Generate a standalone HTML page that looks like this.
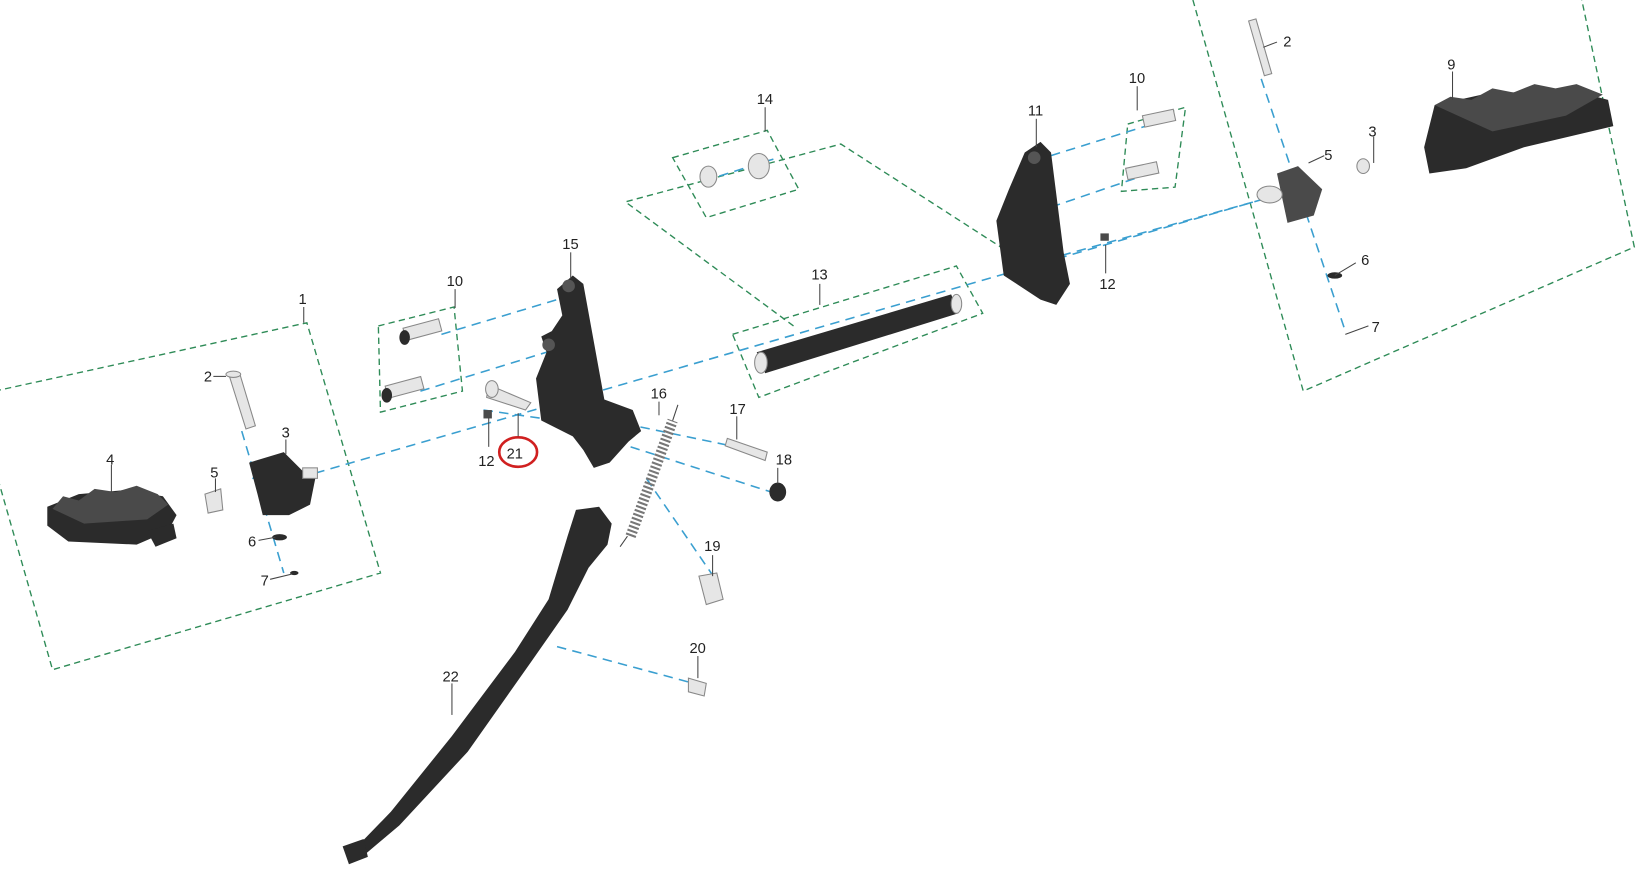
<!DOCTYPE html>
<html><head><meta charset="utf-8"><style>
html,body{margin:0;padding:0;background:#fff;width:1648px;height:880px;overflow:hidden}
svg{display:block}
text{font-family:"Liberation Sans",sans-serif;font-size:14px;fill:#222}
.g{fill:none;stroke:#2e8b57;stroke-width:1.3;stroke-dasharray:6,4}
.b{fill:none;stroke:#3a9fd0;stroke-width:1.5;stroke-dasharray:9,6}
.l{stroke:#444;stroke-width:1;fill:none}
.d{fill:#2b2b2b}
.m{fill:#4a4a4a}
.p{fill:#e6e6e6;stroke:#888;stroke-width:1}
</style></head><body>
<svg width="1648" height="880" viewBox="0 0 1568 837" preserveAspectRatio="none">
<polyline class="g" points="-5,372 292,307 362,545 50,637 -5,445"/>
<polygon class="g" points="360,310 432,292 440,372 362,392"/>
<polygon class="g" points="640,150 730,124 760,180 672,207"/>
<polyline class="g" points="755,310 595,192 800,137 960,240"/>
<polygon class="g" points="697,318 910,253 935,298 722,378"/>
<polygon class="g" points="1073,118 1128,102 1118,178 1067,182"/>
<polyline class="g" points="1135,0 1240,372 1555,235 1505,0"/>
<line class="b" x1="300" y1="450" x2="1200" y2="190"/>
<line class="b" x1="240" y1="455" x2="300" y2="450"/>
<line class="b" x1="420" y1="318" x2="540" y2="282"/>
<line class="b" x1="400" y1="372" x2="520" y2="335"/>
<line class="b" x1="670" y1="172" x2="740" y2="150"/>
<line class="b" x1="1000" y1="148" x2="1090" y2="120"/>
<line class="b" x1="1000" y1="197" x2="1085" y2="168"/>
<line class="b" x1="1010" y1="243" x2="1200" y2="190"/>
<line class="b" x1="460" y1="390" x2="600" y2="410"/>
<line class="b" x1="580" y1="400" x2="700" y2="425"/>
<line class="b" x1="600" y1="425" x2="740" y2="470"/>
<line class="b" x1="615" y1="455" x2="680" y2="550"/>
<line class="b" x1="530" y1="615" x2="660" y2="650"/>
<line class="b" x1="1200" y1="75" x2="1280" y2="315"/>
<line class="b" x1="230" y1="410" x2="270" y2="545"/>
<!-- left footpeg 4 -->
<path class="d" d="M45,482 L75,470 L120,466 L155,472 L168,490 L160,505 L130,518 L65,515 L45,500 Z"/>
<path class="m" d="M50,484 L60,472 L75,476 L90,465 L110,468 L130,462 L150,470 L160,480 L140,494 L80,498 Z"/>
<path class="d" d="M140,505 L165,498 L168,512 L148,520 Z"/>
<!-- left bracket 3 -->
<path class="d" d="M237,440 L270,430 L290,450 L300,455 L295,480 L275,490 L250,490 L245,470 Z"/>
<rect class="p" x="288" y="445" width="14" height="10"/>
<path class="p" d="M195,470 L210,465 L212,485 L198,488 Z"/>
<path class="p" d="M218,357 L228,355 L243,405 L234,408 Z"/>
<ellipse class="p" cx="222" cy="356" rx="7" ry="3"/>
<ellipse class="d" cx="266" cy="511" rx="7" ry="3"/>
<ellipse class="d" cx="280" cy="545" rx="4" ry="2"/>
<rect class="p" x="385" y="312" width="35" height="12" transform="rotate(-15 385 318)"/>
<ellipse class="d" cx="385" cy="321" rx="5" ry="7"/>
<rect class="p" x="368" y="367" width="35" height="12" transform="rotate(-15 368 373)"/>
<ellipse class="d" cx="368" cy="376" rx="5" ry="7"/>
<path class="p" d="M465,366 L505,383 L500,390 L463,378 Z"/>
<ellipse class="p" cx="468" cy="370" rx="6" ry="8"/>
<rect class="m" x="460" y="390" width="8" height="8"/>
<!-- bracket 15 -->
<path class="d" d="M530,275 L545,262 L555,270 L575,380 L602,390 L610,410 L598,420 L580,440 L565,445 L555,428 L545,415 L515,400 L510,360 L520,335 L515,320 L525,315 L535,300 Z"/>
<circle cx="541" cy="272" r="6" fill="#555"/>
<circle cx="522" cy="328" r="6" fill="#555"/>
<path d="M600,510 L640,400" stroke="#777" stroke-width="10" stroke-dasharray="2,2" fill="none"/>
<path class="l" d="M590,520 L597,510 M640,400 L645,385"/>
<!-- kickstand 22 (slimmer) -->
<path class="d" d="M548,485 L570,482 L582,498 L578,518 L560,540 L540,580 L505,630 L445,715 L380,785 L348,812 L340,805 L372,772 L430,700 L490,620 L522,570 L540,510 Z"/>
<path class="d" d="M326,805 L346,798 L350,815 L332,822 Z"/>
<path class="d" d="M720,335 L905,280 L912,298 L728,355 Z"/>
<ellipse class="p" cx="724" cy="345" rx="6" ry="10"/>
<ellipse class="p" cx="910" cy="289" rx="5" ry="9"/>
<ellipse class="p" cx="674" cy="168" rx="8" ry="10"/>
<ellipse class="p" cx="722" cy="158" rx="10" ry="12"/>
<path class="p" d="M692,417 L730,430 L728,438 L690,424 Z"/>
<ellipse class="d" cx="740" cy="468" rx="8" ry="9"/>
<path class="p" d="M665,548 L682,545 L688,570 L672,575 Z"/>
<path class="p" d="M655,645 L672,650 L670,662 L655,658 Z"/>
<path class="d" d="M975,145 L990,135 L1000,145 L1012,240 L1018,270 L1005,290 L990,285 L955,262 L948,210 L960,180 Z"/>
<circle cx="984" cy="150" r="6" fill="#555"/>
<rect class="p" x="1088" y="110" width="30" height="11" transform="rotate(-12 1088 115)"/>
<rect class="p" x="1072" y="160" width="30" height="11" transform="rotate(-12 1072 165)"/>
<rect class="m" x="1047" y="222" width="8" height="7"/>
<path class="m" d="M1215,165 L1235,158 L1258,180 L1250,205 L1225,212 Z"/>
<ellipse class="p" cx="1208" cy="185" rx="12" ry="8"/>
<path class="p" d="M1188,20 L1195,18 L1210,70 L1203,72 Z"/>
<ellipse class="d" cx="1270" cy="262" rx="7" ry="3"/>
<ellipse class="p" cx="1297" cy="158" rx="6" ry="7"/>
<path class="d" d="M1355,140 L1365,100 L1410,90 L1430,88 L1500,87 L1530,95 L1535,120 L1450,140 L1395,160 L1360,165 Z"/>
<path class="m" d="M1365,100 L1380,92 L1400,95 L1420,84 L1440,88 L1460,80 L1480,84 L1500,80 L1525,90 L1490,110 L1420,125 Z"/>
<ellipse cx="493" cy="430" rx="18" ry="14" fill="none" stroke="#d02020" stroke-width="2.5"/>
<g class="l">
<line x1="289" y1="292" x2="289" y2="307"/>
<line x1="203" y1="358" x2="215" y2="358"/>
<line x1="272" y1="418" x2="272" y2="432"/>
<line x1="106" y1="442" x2="106" y2="468"/>
<line x1="205" y1="455" x2="205" y2="468"/>
<line x1="246" y1="514" x2="262" y2="511"/>
<line x1="257" y1="551" x2="278" y2="546"/>
<line x1="433" y1="275" x2="433" y2="293"/>
<line x1="543" y1="240" x2="543" y2="265"/>
<line x1="728" y1="102" x2="728" y2="125"/>
<line x1="780" y1="270" x2="780" y2="290"/>
<line x1="627" y1="382" x2="627" y2="395"/>
<line x1="701" y1="396" x2="701" y2="418"/>
<line x1="740" y1="445" x2="740" y2="460"/>
<line x1="678" y1="528" x2="678" y2="548"/>
<line x1="664" y1="624" x2="664" y2="645"/>
<line x1="430" y1="650" x2="430" y2="680"/>
<line x1="465" y1="397" x2="465" y2="425"/>
<line x1="493" y1="393" x2="493" y2="415"/>
<line x1="986" y1="113" x2="986" y2="140"/>
<line x1="1082" y1="82" x2="1082" y2="105"/>
<line x1="1052" y1="233" x2="1052" y2="260"/>
<line x1="1202" y1="45" x2="1215" y2="40"/>
<line x1="1382" y1="68" x2="1382" y2="95"/>
<line x1="1307" y1="130" x2="1307" y2="155"/>
<line x1="1245" y1="155" x2="1260" y2="148"/>
<line x1="1270" y1="262" x2="1290" y2="250"/>
<line x1="1280" y1="318" x2="1302" y2="310"/>
</g>
<g>
<text x="284" y="289">1</text><text x="194" y="363">2</text><text x="268" y="416">3</text>
<text x="101" y="442">4</text><text x="200" y="454">5</text><text x="236" y="520">6</text>
<text x="248" y="557">7</text><text x="425" y="272">10</text><text x="535" y="237">15</text>
<text x="720" y="99">14</text><text x="772" y="266">13</text><text x="619" y="379">16</text>
<text x="694" y="394">17</text><text x="738" y="442">18</text><text x="670" y="524">19</text>
<text x="656" y="621">20</text><text x="421" y="648">22</text><text x="455" y="443">12</text>
<text x="482" y="436">21</text><text x="978" y="110">11</text><text x="1074" y="79">10</text>
<text x="1046" y="275">12</text><text x="1221" y="44">2</text><text x="1377" y="66">9</text>
<text x="1302" y="130">3</text><text x="1260" y="152">5</text><text x="1295" y="252">6</text>
<text x="1305" y="316">7</text>
</g>
</svg>
</body></html>
